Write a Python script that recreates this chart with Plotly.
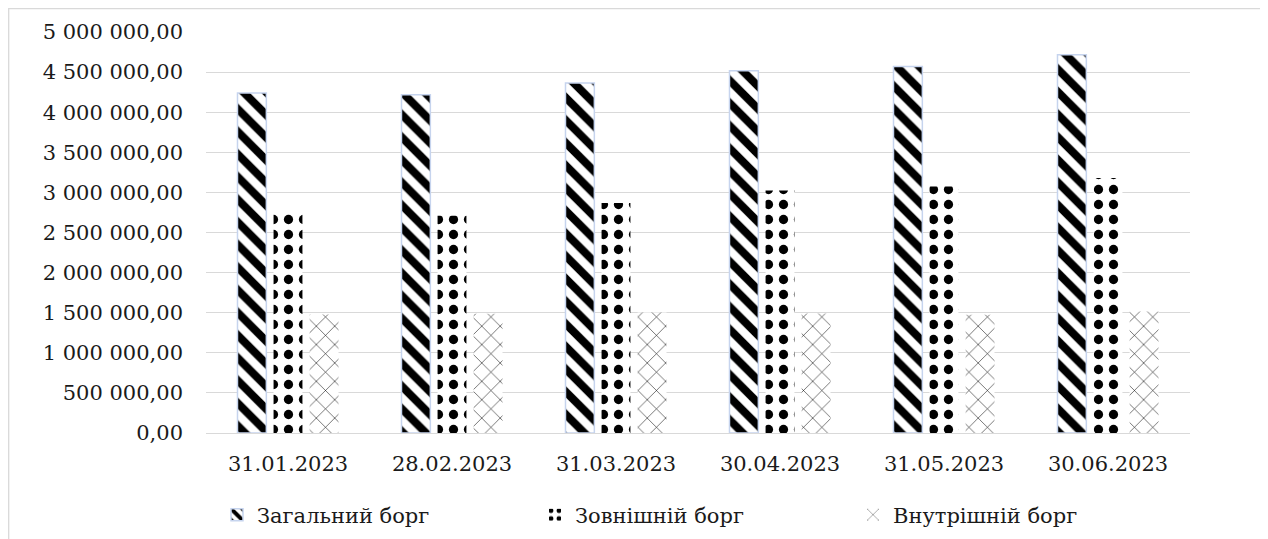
import plotly.graph_objects as go

categories = ["31.01.2023", "28.02.2023", "31.03.2023", "30.04.2023", "31.05.2023", "30.06.2023"]
total_debt = [4239000, 4218000, 4364000, 4517000, 4571000, 4717000]
external_debt = [2743000, 2709000, 2868000, 3025000, 3075000, 3180000]
internal_debt = [1476000, 1488000, 1504000, 1490000, 1475000, 1516000]
series_names = ["Загальний борг", "Зовнішній борг", "Внутрішній борг"]
y_ticks = [0, 500000, 1000000, 1500000, 2000000, 2500000, 3000000, 3500000, 4000000, 4500000, 5000000]

FONT = "DejaVu Serif"
FS = 21
TXT = "#1a1a1a"

fig = go.Figure()
fig.add_trace(go.Bar(
    x=categories, y=total_debt, name=series_names[0],
    marker=dict(color="white", line=dict(color="#c6d4ee", width=1.5),
                pattern=dict(shape="\\", fgcolor="black", bgcolor="white", fgopacity=1,
                             size=16, solidity=0.5, fillmode="replace")),
))
fig.add_trace(go.Bar(
    x=categories, y=external_debt, name=series_names[1],
    marker=dict(color="white", line=dict(color="white", width=0),
                pattern=dict(shape=".", fgcolor="black", bgcolor="white", fgopacity=1,
                             size=15, solidity=0.3, fillmode="replace")),
))
fig.add_trace(go.Bar(
    x=categories, y=internal_debt, name=series_names[2],
    marker=dict(color="white", line=dict(color="white", width=0),
                pattern=dict(shape="x", fgcolor="black", bgcolor="white", fgopacity=1,
                             size=13, solidity=0.08, fillmode="replace")),
))

# page has an 8px body margin; figure coords = screen coords - 8
OFF = 8
W, H = 1260, 531
L = 206 - OFF
T = 32 - OFF
R = W - (1190 - OFF)
B = H - (433 - OFF)
pw, ph = W - L - R, H - T - B

def px_x(s):
    return (s - OFF - L) / pw

def px_y(s):
    return (H - B - (s - OFF)) / ph

fig.update_layout(
    width=W, height=H,
    margin=dict(l=L, r=R, t=T, b=B, autoexpand=False),
    paper_bgcolor="white", plot_bgcolor="white",
    barmode="group", bargap=0.34, bargroupgap=0.2,
    separators=", ",
    font=dict(family=FONT, size=FS, color=TXT),
    showlegend=True,
    legend=dict(orientation="h", x=px_x(217), xanchor="left", y=px_y(515), yanchor="middle",
                font=dict(family=FONT, size=FS, color=TXT),
                entrywidth=273, entrywidthmode="pixels", itemwidth=30,
                bgcolor="rgba(0,0,0,0)"),
    xaxis=dict(showgrid=False, showline=False, ticks="", ticklabelstandoff=16,
               tickfont=dict(family=FONT, size=FS, color=TXT)),
    yaxis=dict(range=[0, 5000000], tickvals=y_ticks, tickformat=",.2f",
               showgrid=True, gridcolor="#d9d9d9", gridwidth=1.3,
               zeroline=True, zerolinecolor="#d9d9d9", zerolinewidth=1.3,
               showline=False, ticks="", ticklabelstandoff=22,
               tickfont=dict(family=FONT, size=FS, color=TXT)),
    shapes=[dict(type="rect", xref="paper", yref="paper",
                 x0=px_x(8.7), y0=px_y(8.7), x1=px_x(1300), y1=px_y(600),
                 line=dict(color="#d9d9d9", width=1.3), fillcolor="rgba(0,0,0,0)", layer="below")],
)

fig.write_html("out.html")
